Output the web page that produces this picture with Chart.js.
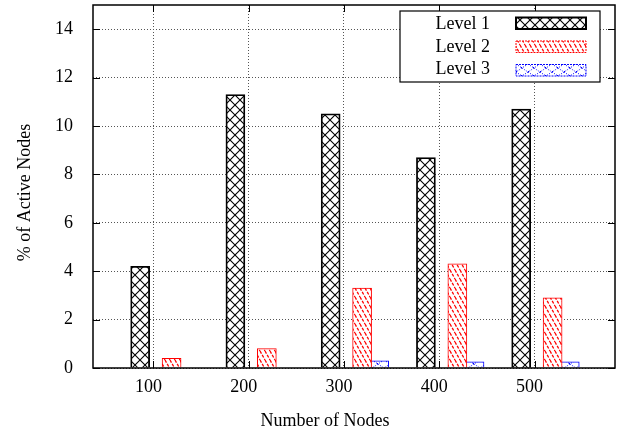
<!DOCTYPE html>
<html>
<head>
<meta charset="utf-8">
<script src="https://cdn.jsdelivr.net/npm/chart.js@4.4.1/dist/chart.umd.min.js"></script>
<style>
  html, body { margin: 0; padding: 0; background: #fff; }
</style>
</head>
<body>
<canvas id="chart" width="619" height="434"></canvas>
<script>
// active node percentages per hierarchy level
const nodeCounts = [100, 200, 300, 400, 500];
const level1 = [4.2, 11.3, 10.5, 8.7, 10.7];
const level2 = [0.4, 0.8, 3.3, 4.3, 2.9];
const level3 = [0, 0, 0.3, 0.25, 0.25];
const levelNames = ['Level 1', 'Level 2', 'Level 3'];
const yTickValues = [0, 2, 4, 6, 8, 10, 12, 14];

// horizontal shift of each level's box from its node count (axis units)
const levelShift = [-14, 19, 37];
const FONT = '"Liberation Serif", "Times New Roman", serif';

// build a repeating fill from a small tile
function makePattern(w, h, draw) {
    const c = document.createElement('canvas');
    c.width = w;
    c.height = h;
    const g = c.getContext('2d');
    g.fillStyle = '#fff';
    g.fillRect(0, 0, w, h);
    draw(g, w, h);
    return document.createElement('canvas').getContext('2d').createPattern(c, 'repeat');
}

const crossFill = makePattern(10, 10, function (g, w, h) {
    g.strokeStyle = '#000';
    g.lineWidth = 1.1;
    g.beginPath();
    g.moveTo(-1, -1); g.lineTo(w + 1, h + 1);
    g.moveTo(w + 1, -1); g.lineTo(-1, h + 1);
    g.stroke();
});

const hatchFill = makePattern(5, 9, function (g, w, h) {
    g.strokeStyle = '#f00';
    g.lineWidth = 1.3;
    g.setLineDash([3, 1.5]);
    g.beginPath();
    for (let k = -1; k <= 1; k++) {
        g.moveTo(k * w, 0);
        g.lineTo(k * w + w, h);
    }
    g.stroke();
});

const dotFill = makePattern(12, 8, function (g, w, h) {
    g.strokeStyle = '#00f';
    g.lineWidth = 1;
    g.setLineDash([1, 1.5]);
    g.beginPath();
    g.moveTo(0, 0); g.lineTo(w, h);
    g.moveTo(w, 0); g.lineTo(0, h);
    g.stroke();
    g.setLineDash([]);
    g.fillStyle = '#00f';
    g.fillRect(5, 3, 1, 1);
    g.fillRect(0, 7, 1, 1);
});

const fills = [crossFill, hatchFill, dotFill];
const edgeColors = ['#000', '#f00', '#00f'];
const edgeWidths = [1.8, 1, 1];

const datasets = [level1, level2, level3].map(function (vals, i) {
    return {
        label: levelNames[i],
        data: vals.map((v, j) => ({ x: nodeCounts[j] + levelShift[i], y: v })),
        backgroundColor: fills[i],
        borderColor: edgeColors[i],
        borderWidth: edgeWidths[i],
        barThickness: 19,
        grouped: false
    };
});

// plot frame with inward tick marks, axis titles and key box
const framePlugin = {
    id: 'frame',
    afterDatasetsDraw(chart) {
        const { ctx, chartArea: a, scales } = chart;
        const x = scales.x, y = scales.y;
        ctx.save();
        ctx.strokeStyle = '#000';
        ctx.lineWidth = 1;
        ctx.beginPath();
        nodeCounts.forEach(function (v) {
            const px = Math.round(x.getPixelForValue(v)) + 0.5;
            ctx.moveTo(px, a.bottom); ctx.lineTo(px, a.bottom - 7);
            ctx.moveTo(px, a.top); ctx.lineTo(px, a.top + 7);
        });
        yTickValues.forEach(function (v) {
            const py = Math.round(y.getPixelForValue(v)) + 0.5;
            ctx.moveTo(a.left, py); ctx.lineTo(a.left + 7, py);
            ctx.moveTo(a.right, py); ctx.lineTo(a.right - 7, py);
        });
        ctx.stroke();
        ctx.lineWidth = 1.5;
        ctx.strokeRect(a.left, a.top, a.right - a.left, a.bottom - a.top);

        // key
        const kx = a.right - 215, ky = a.top + 6, kw = 200, kh = 71;
        ctx.fillStyle = '#fff';
        ctx.fillRect(kx, ky, kw, kh);
        ctx.lineWidth = 1.2;
        ctx.strokeRect(kx, ky, kw, kh);
        ctx.font = '18px ' + FONT;
        ctx.textAlign = 'right';
        ctx.textBaseline = 'alphabetic';
        chart.data.datasets.forEach(function (ds, i) {
            ctx.fillStyle = '#000';
            ctx.fillText(ds.label, kx + 90, ky + 18 + i * 22.5);
            const sy = ky + 6.5 + i * 23.5;
            ctx.fillStyle = ds.backgroundColor;
            ctx.fillRect(kx + 116, sy, 70, 11.5);
            ctx.strokeStyle = ds.borderColor;
            ctx.lineWidth = i === 0 ? 2 : 1;
            if (i > 0) ctx.setLineDash([2, 1]);
            ctx.strokeRect(kx + 116, sy, 70, 11.5);
            ctx.setLineDash([]);
        });

        // axis titles
        ctx.fillStyle = '#000';
        ctx.textAlign = 'center';
        ctx.textBaseline = 'middle';
        ctx.fillText('Number of Nodes', a.left + 232, a.bottom + 53);
        ctx.translate(25, (a.top + a.bottom) / 2 + 6);
        ctx.rotate(-Math.PI / 2);
        ctx.fillText('% of Active Nodes', 0, 0);
        ctx.restore();
    }
};

const gridStyle = { color: '#555', lineWidth: 1, drawTicks: false, offset: false };

new Chart(document.getElementById('chart'), {
    type: 'bar',
    data: { datasets: datasets },
    options: {
        responsive: false,
        animation: false,
        events: [],
        layout: { autoPadding: false, padding: { top: 5, right: 4, bottom: 0, left: 0 } },
        plugins: { legend: { display: false }, tooltip: { enabled: false } },
        scales: {
            x: {
                type: 'linear',
                offset: false,
                min: 36.5,
                max: 584.5,
                afterBuildTicks: function (s) { s.ticks = nodeCounts.map(v => ({ value: v })); },
                afterFit: function (s) {
                    s.height = 66;
                    s.paddingLeft = 0;
                    s.paddingRight = 0;
                },
                grid: gridStyle,
                border: { display: false, dash: [1, 2] },
                ticks: {
                    color: '#000',
                    font: { family: FONT, size: 18 },
                    padding: 8,
                    labelOffset: -5,
                    maxRotation: 0,
                    autoSkip: false
                }
            },
            y: {
                min: 0,
                max: 15,
                afterBuildTicks: function (s) { s.ticks = yTickValues.map(v => ({ value: v })); },
                afterFit: function (s) {
                    s.width = 93;
                    s.paddingTop = 0;
                    s.paddingBottom = 0;
                },
                grid: gridStyle,
                border: { display: false, dash: [1, 2] },
                ticks: {
                    color: '#000',
                    font: { family: FONT, size: 18 },
                    padding: 20
                }
            }
        }
    },
    plugins: [framePlugin]
});
</script>
</body>
</html>
